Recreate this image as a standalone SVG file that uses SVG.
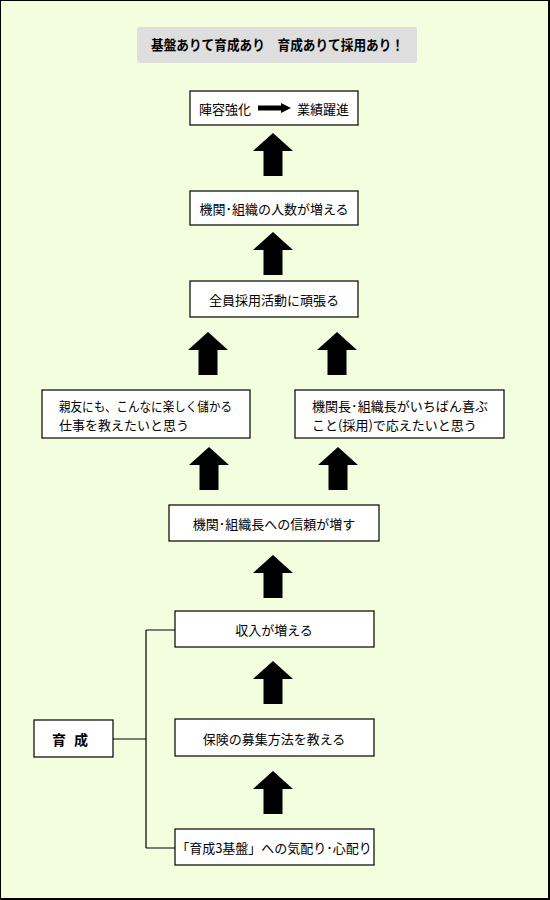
<svg xmlns="http://www.w3.org/2000/svg" width="550" height="900" viewBox="0 0 550 900">
<defs>
<style>
.box{fill:#fff;stroke:#000;stroke-width:1.2}
.t{font-family:"Noto Sans CJK JP","Noto Sans CJK SC",sans-serif;font-size:13px;fill:#000}
.c{text-anchor:middle;dominant-baseline:central}
.b{font-weight:bold}
.arr{fill:#000}
.ln{fill:none;stroke:#000;stroke-width:1.2}
</style>
<path id="up" d="M0,0 L20,18 L9.5,18 L9.5,43 L-9.5,43 L-9.5,18 L-20,18 Z"/>
</defs>
<rect x="0" y="0" width="550" height="900" fill="#F2FEDD"/>
<rect x="0.5" y="0.5" width="548" height="898" fill="none" stroke="#000" stroke-width="1"/>
<line x1="549" y1="0" x2="549" y2="900" stroke="#000" stroke-width="2"/>
<line x1="0" y1="899" x2="550" y2="899" stroke="#000" stroke-width="2"/>

<g id="title">
<rect x="137" y="27" width="280" height="36" rx="2" fill="#DEDEDE"/>
<text class="t b" x="151" y="44" dominant-baseline="central" textLength="253" lengthAdjust="spacingAndGlyphs" style="font-size:14px">基盤ありて育成あり　育成ありて採用あり！</text>
</g>

<g id="n1">
<rect class="box" x="190" y="91" width="168" height="34"/>
<text class="t" x="199" y="108" dominant-baseline="central">陣容強化</text>
<path class="arr" d="M258,105.5 L281,105.5 L281,103 L291,108 L281,113 L281,110.5 L258,110.5 Z"/>
<text class="t" x="297" y="108" dominant-baseline="central">業績躍進</text>
</g>

<g id="n2">
<rect class="box" x="190" y="191" width="168" height="34"/>
<text class="t c" x="274" y="208">機関･組織の人数が増える</text>
</g>

<g id="n3">
<rect class="box" x="190" y="281" width="168" height="36"/>
<text class="t c" x="274" y="299">全員採用活動に頑張る</text>
</g>

<g id="n4">
<rect class="box" x="42" y="390" width="208" height="48"/>
<text class="t" x="59" y="405" dominant-baseline="central" textLength="173" lengthAdjust="spacingAndGlyphs">親友にも、こんなに楽しく儲かる</text>
<text class="t" x="59" y="424" dominant-baseline="central">仕事を教えたいと思う</text>
</g>

<g id="n5">
<rect class="box" x="295" y="390" width="209" height="48"/>
<text class="t" x="312" y="405" dominant-baseline="central" textLength="176" lengthAdjust="spacingAndGlyphs">機関長･組織長がいちばん喜ぶ</text>
<text class="t" x="312" y="424" dominant-baseline="central">こと(採用)で応えたいと思う</text>
</g>

<g id="n6">
<rect class="box" x="169" y="505" width="210" height="36"/>
<text class="t c" x="274" y="523">機関･組織長への信頼が増す</text>
</g>

<g id="n7">
<rect class="box" x="175" y="611" width="199" height="36"/>
<text class="t c" x="274" y="629">収入が増える</text>
</g>

<g id="n8">
<rect class="box" x="175" y="719" width="199" height="37"/>
<text class="t c" x="274" y="738">保険の募集方法を教える</text>
</g>

<g id="n9">
<rect class="box" x="175" y="829" width="199" height="36"/>
<text class="t c" x="274" y="847">「育成3基盤」への気配り･心配り</text>
</g>

<g id="n10">
<rect class="box" x="34" y="720" width="79" height="37"/>
<text class="t b" x="52" y="739" dominant-baseline="central" textLength="36" lengthAdjust="spacing" style="font-size:14px">育 成</text>
</g>

<g id="connectors">
<use href="#up" class="arr" x="273" y="133"/>
<use href="#up" class="arr" x="273" y="232"/>
<use href="#up" class="arr" x="208" y="332"/>
<use href="#up" class="arr" x="337" y="332"/>
<use href="#up" class="arr" x="209" y="447"/>
<use href="#up" class="arr" x="338" y="447"/>
<use href="#up" class="arr" x="273" y="555"/>
<use href="#up" class="arr" x="273" y="661"/>
<use href="#up" class="arr" x="273" y="771"/>
<path class="ln" d="M113,739 L146,739 M146,630 L146,848 M146,630 L175,630 M146,848 L175,848"/>
</g>
</svg>
